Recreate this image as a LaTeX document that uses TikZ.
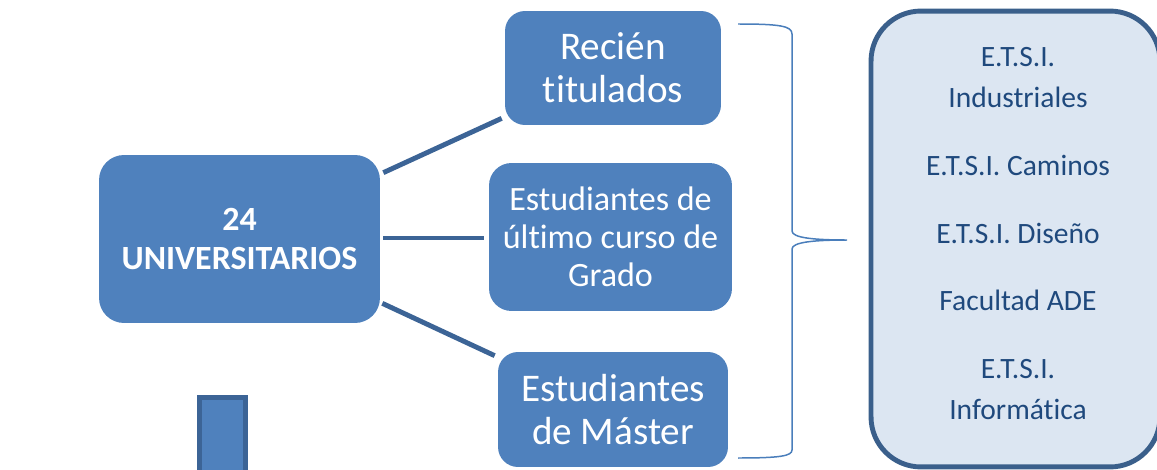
\documentclass[tikz,border=0pt]{standalone}
\usepackage{fontspec}
\setmainfont{Carlito}[Ligatures=NoCommon]
\usetikzlibrary{calc}
\definecolor{boxblue}{RGB}{79,129,189}
\definecolor{edgeblue}{RGB}{60,100,150}
\definecolor{panelfill}{RGB}{220,230,242}
\definecolor{paneledge}{RGB}{58,95,139}
\definecolor{paneltext}{RGB}{31,73,125}
\definecolor{braceblue}{RGB}{74,126,187}

\begin{document}
\begin{tikzpicture}[x=0.02cm,y=-0.02cm,
  box/.style={rectangle, rounded corners=0.4cm, fill=boxblue, text=white, align=center, inner sep=0pt},
  link/.style={edgeblue, line width=2.8pt},
  school/.style={text=paneltext, align=center, inner sep=0pt, font=\fontsize{16.8}{23.2}\selectfont}]

\useasboundingbox (0,0) rectangle (1157,470);
\clip (0,0) rectangle (1157,470);

% Main box
\node[box, rounded corners=0.5cm, minimum width=5.62cm, minimum height=3.36cm,
  font=\bfseries\fontsize{19.3}{22.1}\selectfont] (uni) at (239.5,239) {24\\UNIVERSITARIOS};

% Three groups
\node[box, minimum width=4.32cm, minimum height=2.28cm,
  font=\fontsize{22.3}{24.4}\selectfont] (recien) at (613,68) {Recién\\titulados};
\node[box, rounded corners=0.45cm, minimum width=4.86cm, minimum height=2.96cm,
  font=\fontsize{19.4}{21.5}\selectfont] (grado) at (610.5,237) {Estudiantes de\\último curso de\\Grado};
\node[box, minimum width=4.6cm, minimum height=2.3cm,
  font=\fontsize{22.3}{24.4}\selectfont] (master) at (613,409.5) {Estudiantes\\de Máster};

% Small bar below
\node[draw=edgeblue, line width=2.8pt, fill=boxblue, inner sep=0pt,
  minimum width=0.92cm, minimum height=1.64cm] (bar) at (222.5,438.75) {};

% Connecting edges
\draw[link] ($(uni.north east)+(3,18)$) -- ($(recien.south west)+(-3,-7)$);
\draw[link] ($(uni.east)+(3,-1)$) -- ($(grado.west)+(-5,1)$);
\draw[link] ($(uni.south east)+(2,-20)$) -- ($(master.north west)+(-3,4)$);

% Brace
\draw[braceblue, line width=0.85pt]
  (738,24) .. controls (780,24) and (792,26) .. (792,34) -- (792,231)
  .. controls (792,238) and (815,240) .. (847,240)
  .. controls (815,240) and (792,242) .. (792,249) -- (792,450)
  .. controls (792,456) and (780,458) .. (738,458);

% Schools panel
\node[draw=paneledge, fill=panelfill, line width=2.8pt, rounded corners=1cm,
  minimum width=5.78cm, minimum height=9.12cm] (panel) at (1015.5,239) {};
\foreach \txt/\y [count=\i] in {{E.T.S.I.\\Industriales}/77.5, {E.T.S.I. Caminos}/165,
    {E.T.S.I. Diseño}/233, {Facultad ADE}/300, {E.T.S.I.\\Informática}/389.5}
  \node[school] (s\i) at (1018,\y) {\txt};

\end{tikzpicture}
\end{document}
